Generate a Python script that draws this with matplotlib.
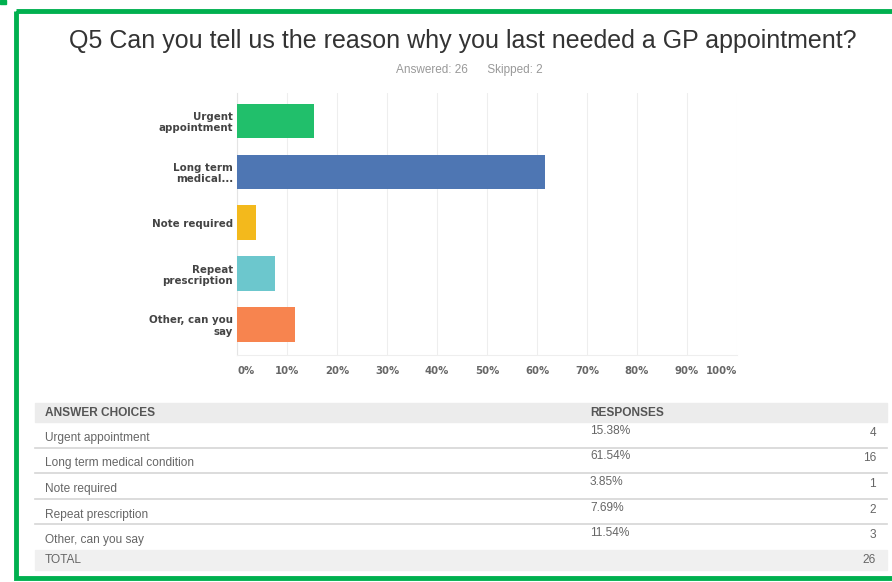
import matplotlib.pyplot as plt
from matplotlib.patches import Rectangle

# survey results
labels = ["Urgent\nappointment", "Long term\nmedical...", "Note required",
          "Repeat\nprescription", "Other, can you\nsay"]
choices = ["Urgent appointment", "Long term medical condition", "Note required",
           "Repeat prescription", "Other, can you say"]
percents = [15.38, 61.54, 3.85, 7.69, 11.54]
counts = [4, 16, 1, 2, 3]
colors = ["#21bf6b", "#4e76b3", "#f3b91c", "#6cc7cd", "#f7844f"]
answered = 26
skipped = 2

W, H = 892, 582
fig = plt.figure(figsize=(W / 100, H / 100), dpi=100)

# pixel-space helper axes for frame, title and table
bg = fig.add_axes([0, 0, 1, 1])
bg.set_xlim(0, W)
bg.set_ylim(H, 0)
bg.axis("off")

bg.add_patch(Rectangle((16, 11), 900, 567, fill=False, edgecolor="#00b04f", linewidth=3.5))
bg.add_patch(Rectangle((0, 0), 6, 4, color="#00b04f"))

bg.text(463, 41, "Q5 Can you tell us the reason why you last needed a GP appointment?",
        ha="center", va="center", fontsize=18, color="#333333", family="Liberation Sans")
bg.text(469, 70, "Answered: %d      Skipped: %d" % (answered, skipped),
        ha="center", va="center", fontsize=8.5, color="#999999", family="Liberation Sans")

# bar chart
ax = fig.add_axes([237 / W, 1 - 355 / H, 500 / W, 262 / H])
y = range(len(labels))
ax.barh(y, percents, height=0.68, color=colors, zorder=3)
ax.set_ylim(len(labels) - 0.4, -0.55)
ax.set_xlim(0, 100)
ax.set_xticks(range(0, 101, 10))
ax.set_xticklabels(["%d%%" % v for v in range(0, 101, 10)],
                   fontsize=7.3, color="#666666", fontweight="bold")
xt = ax.get_xticklabels()
xt[0].set_ha("left")
xt[-1].set_ha("right")
ax.set_yticks(list(y))
ax.set_yticklabels(labels, fontsize=7.4, color="#444444", fontweight="bold",
                   linespacing=1.15)
ax.tick_params(length=0, pad=3)
ax.tick_params(axis="x", pad=8)
ax.grid(axis="x", color="#eeeeee", linewidth=0.8, zorder=0)
for s in ["top", "right"]:
    ax.spines[s].set_visible(False)
ax.spines["left"].set_color("#e4e4e4")
ax.spines["bottom"].set_color("#eeeeee")

# responses table
tf = dict(family="Liberation Sans", fontsize=8.6, color="#666666", va="center")
bg.add_patch(Rectangle((35, 403), 852, 19, color="#ececec", zorder=1))
bg.text(45, 412.5, "ANSWER CHOICES", fontweight="bold", **dict(tf, color="#555555"))
bg.text(590, 412.5, "RESPONSES", fontweight="bold", **dict(tf, color="#555555"))
row_top = 422
row_h = 25.6
for i, (c, p, n) in enumerate(zip(choices, percents, counts)):
    yc = row_top + row_h * (i + 0.5) + 3
    bg.text(45, yc, c, **tf)
    bg.text(590, yc - 7, "%.2f%%" % p, **tf)
    bg.text(876, yc - 5, str(n), ha="right", **tf)
    if i < len(choices) - 1:
        ly = row_top + row_h * (i + 1)
        bg.plot([35, 887], [ly, ly], color="#d5d5d5", linewidth=1.2)
tot_y = row_top + row_h * len(choices)
bg.add_patch(Rectangle((35, tot_y), 852, 20, color="#f0f0f0", zorder=1))
bg.text(45, tot_y + 10, "TOTAL", **tf)
bg.text(876, tot_y + 10, str(sum(counts)), ha="right", **tf)

fig.savefig("out.png", dpi=100)
